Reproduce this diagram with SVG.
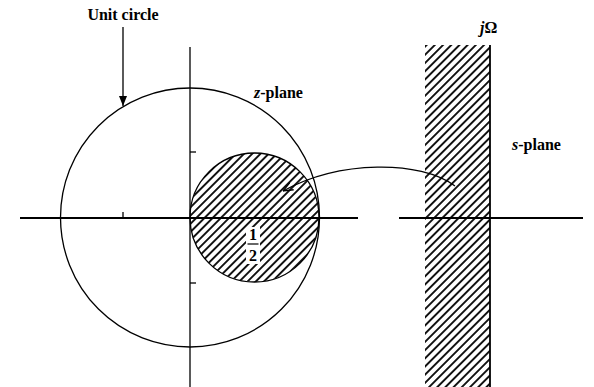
<svg xmlns="http://www.w3.org/2000/svg" width="594" height="387" viewBox="0 0 594 387">
<style>
.ax{stroke:#000;stroke-width:1.8;fill:none}
.thin{stroke:#000;stroke-width:1.3;fill:none}
.lbl{font-family:"Liberation Serif","Times New Roman",serif;font-weight:bold;font-size:16px;fill:#000}
.it{font-style:italic}
</style>
<defs>
<pattern id="hatch" patternUnits="userSpaceOnUse" width="5.8" height="10" patternTransform="rotate(45)">
<line x1="2.9" y1="0" x2="2.9" y2="10" stroke="#000" stroke-width="1.8"/>
</pattern>
<marker id="solid" viewBox="0 0 10 10" refX="10" refY="5" markerWidth="10" markerHeight="10" markerUnits="userSpaceOnUse" orient="auto">
<path d="M0,1 L10,5 L0,9 Z" fill="#000"/>
</marker>
<marker id="open" viewBox="0 0 10 10" refX="10" refY="5" markerWidth="10" markerHeight="10" markerUnits="userSpaceOnUse" orient="auto">
<path d="M0,1 L10,5 L0,9" fill="none" stroke="#000" stroke-width="1.3"/>
</marker>
</defs>
<rect width="594" height="387" fill="#fff"/>
<g id="z-plane">
<line class="ax" x1="20" y1="218" x2="358" y2="218"/>
<line class="thin" x1="190" y1="47" x2="190" y2="387"/>
<line class="thin" x1="190" y1="152" x2="196" y2="152"/>
<line class="thin" x1="190" y1="283" x2="196" y2="283"/>
<line class="thin" x1="123" y1="212" x2="123" y2="218"/>
</g>
<g id="unit-circle">
<circle class="thin" cx="190" cy="217.5" r="129.5"/>
</g>
<g id="region-circle">
<circle cx="254.5" cy="217.5" r="64.5" fill="url(#hatch)" stroke="#000" stroke-width="1.3"/>
<line class="ax" x1="190" y1="218" x2="319" y2="218"/>
</g>
<g id="s-plane">
<rect x="425" y="45" width="65" height="342" fill="url(#hatch)"/>
<line class="ax" x1="399" y1="218" x2="583" y2="218"/>
<line class="ax" x1="490" y1="45" x2="490" y2="387"/>
</g>
<g id="connectors">
<line class="thin" x1="123" y1="27" x2="123" y2="106" marker-end="url(#solid)"/>
<path class="thin" d="M455,186 C420,160 340,160 283,191" marker-end="url(#open)"/>
</g>
<g id="labels">
<text class="lbl" x="123" y="20" text-anchor="middle">Unit circle</text>
<text class="lbl" x="254" y="98"><tspan class="it">z</tspan>-plane</text>
<text class="lbl" x="512" y="150"><tspan class="it">s</tspan>-plane</text>
<text class="lbl" x="480" y="33"><tspan class="it">j</tspan>Ω</text>
<rect x="246" y="227" width="14" height="37" fill="#fff"/>
<text class="lbl" x="253" y="240" text-anchor="middle">1</text>
<line x1="247.5" y1="244" x2="258.5" y2="244" stroke="#000" stroke-width="1.2"/>
<text class="lbl" x="253" y="261" text-anchor="middle">2</text>
</g>
</svg>
